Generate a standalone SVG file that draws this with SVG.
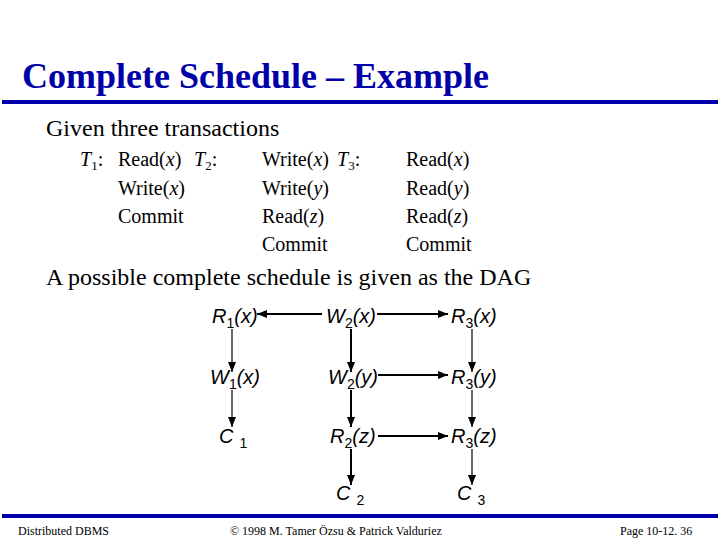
<svg xmlns="http://www.w3.org/2000/svg" width="720" height="540" viewBox="0 0 720 540">
<style>
.title{font-family:"Liberation Serif",serif;font-weight:bold;font-size:36px;fill:#0000A8}
.body{font-family:"Liberation Serif",serif;font-size:24px;fill:#000}
.tx{font-family:"Liberation Serif",serif;font-size:20px;fill:#000}
.ts{font-size:13px}
.foot{font-family:"Liberation Serif",serif;font-size:12px;fill:#000}
.n{font-family:"Liberation Sans",Arial,sans-serif;font-size:20px;font-style:italic;fill:#000}
.sub{font-size:14px;font-style:normal}
.c{stroke:#000;fill:none;marker-end:url(#ah)}
.thick{stroke-width:2}
.thin{stroke-width:1.2}
</style>
<defs>
<marker id="ah" viewBox="0 0 10 8" refX="10" refY="4" markerWidth="10" markerHeight="8" markerUnits="userSpaceOnUse" orient="auto">
<path d="M0,0 L10,4 L0,8 z" fill="#000"/>
</marker>
</defs>
<rect width="720" height="540" fill="#fff"/>
<text class="title" x="22" y="88">Complete Schedule – Example</text>
<rect x="2" y="100" width="716" height="4" fill="#0000A8"/>
<text class="body" x="46" y="136">Given three transactions</text>
<g id="transactions" class="tx">
<text x="80" y="166"><tspan font-style="italic">T</tspan><tspan class="ts" dy="4">1</tspan><tspan dy="-4">:</tspan></text>
<text x="118" y="166">Read(<tspan font-style="italic">x</tspan>)</text>
<text x="118" y="195">Write(<tspan font-style="italic">x</tspan>)</text>
<text x="118" y="223">Commit</text>
<text x="194" y="166"><tspan font-style="italic">T</tspan><tspan class="ts" dy="4">2</tspan><tspan dy="-4">:</tspan></text>
<text x="262" y="166">Write(<tspan font-style="italic">x</tspan>)</text>
<text x="262" y="195">Write(<tspan font-style="italic">y</tspan>)</text>
<text x="262" y="223">Read(<tspan font-style="italic">z</tspan>)</text>
<text x="262" y="251">Commit</text>
<text x="337" y="166"><tspan font-style="italic">T</tspan><tspan class="ts" dy="4">3</tspan><tspan dy="-4">:</tspan></text>
<text x="406" y="166">Read(<tspan font-style="italic">x</tspan>)</text>
<text x="406" y="195">Read(<tspan font-style="italic">y</tspan>)</text>
<text x="406" y="223">Read(<tspan font-style="italic">z</tspan>)</text>
<text x="406" y="251">Commit</text>
</g>
<text class="body" x="46" y="285">A possible complete schedule is given as the DAG</text>
<g id="R1x"><text class="n" x="212" y="323">R<tspan class="sub" dy="5">1</tspan><tspan dy="-5">(x)</tspan></text></g>
<g id="W2x"><text class="n" x="326" y="323">W<tspan class="sub" dy="5">2</tspan><tspan dy="-5">(x)</tspan></text></g>
<g id="R3x"><text class="n" x="451" y="323">R<tspan class="sub" dy="5">3</tspan><tspan dy="-5">(x)</tspan></text></g>
<g id="W1x"><text class="n" x="210" y="384">W<tspan class="sub" dy="5">1</tspan><tspan dy="-5">(x)</tspan></text></g>
<g id="W2y"><text class="n" x="328" y="384">W<tspan class="sub" dy="5">2</tspan><tspan dy="-5">(y)</tspan></text></g>
<g id="R3y"><text class="n" x="451" y="384">R<tspan class="sub" dy="5">3</tspan><tspan dy="-5">(y)</tspan></text></g>
<g id="C1"><text class="n" x="219" y="443">C<tspan class="sub" dx="6" dy="5">1</tspan></text></g>
<g id="R2z"><text class="n" x="330" y="443">R<tspan class="sub" dy="5">2</tspan><tspan dy="-5">(z)</tspan></text></g>
<g id="R3z"><text class="n" x="451" y="443">R<tspan class="sub" dy="5">3</tspan><tspan dy="-5">(z)</tspan></text></g>
<g id="C2"><text class="n" x="336" y="500">C<tspan class="sub" dx="6" dy="5">2</tspan></text></g>
<g id="C3"><text class="n" x="457" y="500">C<tspan class="sub" dx="6" dy="5">3</tspan></text></g>
<g id="connectors">
<line class="c thick" x1="322" y1="314" x2="257" y2="314"/>
<line class="c thick" x1="377" y1="314" x2="448" y2="314"/>
<line class="c thick" x1="378" y1="375" x2="448" y2="375"/>
<line class="c thick" x1="378" y1="436" x2="448" y2="436"/>
<line class="c thin" x1="232" y1="329" x2="232" y2="372"/>
<line class="c thin" x1="232" y1="390" x2="232" y2="427"/>
<line class="c thick" x1="351" y1="329" x2="351" y2="372"/>
<line class="c thick" x1="351" y1="390" x2="351" y2="427"/>
<line class="c thick" x1="351" y1="449" x2="351" y2="485"/>
<line class="c thin" x1="472" y1="329" x2="472" y2="372"/>
<line class="c thin" x1="472" y1="390" x2="472" y2="427"/>
<line class="c thin" x1="472" y1="449" x2="472" y2="485"/>
</g>
<rect x="2" y="514" width="716" height="4" fill="#0000A8"/>
<text class="foot" x="18" y="535">Distributed DBMS</text>
<text class="foot" x="230" y="535">© 1998 M. Tamer Özsu &amp; Patrick Valduriez</text>
<text class="foot" x="620" y="535">Page 10-12. 36</text>
</svg>
